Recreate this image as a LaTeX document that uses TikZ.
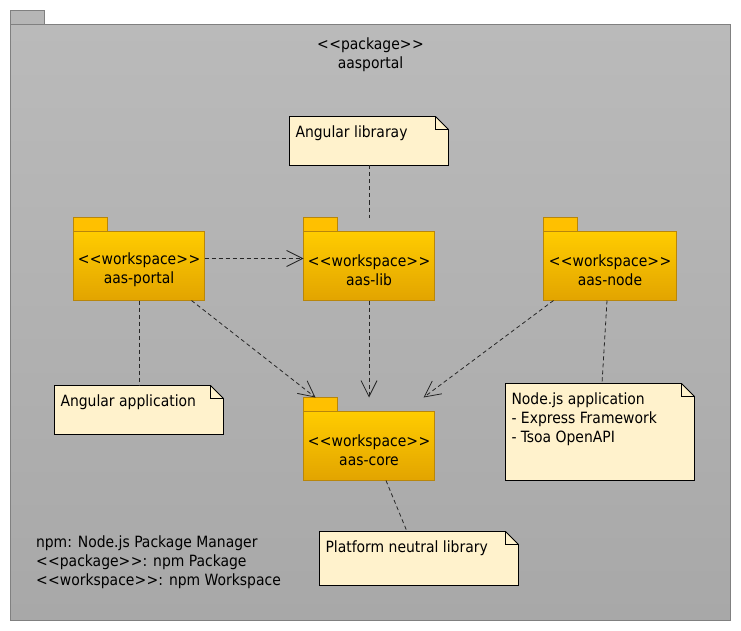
\documentclass[tikz,border=0pt]{standalone}
\usepackage{fontspec}
\setmainfont{DejaVu Sans Condensed}
\usetikzlibrary{arrows.meta,calc}
\definecolor{pkgtop}{HTML}{BABABA}
\definecolor{pkgbot}{HTML}{A8A8A8}
\definecolor{pkgedge}{HTML}{808080}
\definecolor{pkgtabfill}{HTML}{B6B6B6}
\definecolor{foldertop}{HTML}{FFCC00}
\definecolor{folderbot}{HTML}{E2A400}
\definecolor{folderedge}{HTML}{B8860B}
\definecolor{foldertabfill}{HTML}{FFC000}
\definecolor{notefill}{HTML}{FFF2CC}
\definecolor{linecol}{HTML}{262626}
\newcommand\ltlt{<\kern0.5pt<}
\newcommand\gtgt{>\kern0.5pt>}
\tikzset{
  txt/.style={font=\fontsize{15.5}{19}\selectfont, text=black, inner sep=0pt, outer sep=0pt},
  foldertab/.style={draw=folderedge, fill=foldertabfill, line width=0.8pt, minimum width=34pt, minimum height=14pt, inner sep=0pt, outer sep=0pt, anchor=south west},
  folderbody/.style={draw=folderedge, top color=foldertop, bottom color=folderbot, line width=0.8pt, minimum width=131pt, minimum height=69pt, inner sep=0pt, outer sep=0pt, anchor=north west},
  noteshape/.style={draw=black, fill=notefill, line width=0.8pt},
  link/.style={draw=linecol, line width=0.8pt, dash pattern=on 4pt off 3pt},
  dep/.style={link, -{Straight Barb[length=16pt,width=16pt,line width=0.8pt]}},
}
\newcommand\wsfolder[5][131]{%
  \node[folderbody, minimum width=#1pt] (#2) at (#3,#4) {};
  \node[foldertab] (#2tab) at (#2.north west) {};
  \node[txt, align=center, anchor=center] (#2txt) at ([yshift=-38.5pt]#2.north) {\ltlt workspace\gtgt\\#5};
}
\newcommand\umlnote[6]{%
  \node[inner sep=0pt, outer sep=0pt, minimum width=#4pt, minimum height=#5pt, anchor=north west] (#1) at (#2,#3) {};
  \draw[noteshape] (#1.north west) -- ([xshift=-13pt]#1.north east) -- ([yshift=-13pt]#1.north east) -- (#1.south east) -- (#1.south west) -- cycle;
  \draw[noteshape, fill=none] ([xshift=-13pt]#1.north east) |- ([yshift=-13pt]#1.north east);
  \node[txt, align=left, anchor=north west] (#1txt) at ([xshift=6pt, yshift=-9pt]#1.north west) {#6};
}
\begin{document}
\begin{tikzpicture}[x=1pt,y=-1pt]
\useasboundingbox (0,0) rectangle (741,631);
% outer package
\node[draw=pkgedge, top color=pkgtop, bottom color=pkgbot, line width=0.8pt, minimum width=720pt, minimum height=596pt, inner sep=0pt, outer sep=0pt, anchor=north west] (pkg) at (10.5,24.5) {};
\node[draw=pkgedge, fill=pkgtabfill, line width=0.8pt, minimum width=34pt, minimum height=14pt, inner sep=0pt, outer sep=0pt, anchor=south west] (pkgtab) at (pkg.north west) {};
\node[txt, anchor=base] (title1) at (370.5,50) {\ltlt package\gtgt};
\node[txt, anchor=base] (title2) at (370.5,69) {aasportal};
% folders
\wsfolder{portal}{73.5}{231.5}{aas-portal}
\wsfolder{lib}{303.5}{231.5}{aas-lib}
\wsfolder[133]{nodews}{543.5}{231.5}{aas-node}
\wsfolder{core}{303.5}{411.5}{aas-core}
% notes
\umlnote{nlib}{289.5}{116.5}{159}{49}{Angular libraray}
\umlnote{napp}{54.5}{385.5}{169}{49}{Angular application}
\umlnote{nnode}{505.5}{383.5}{189}{97}{Node.js application\\- Express Framework\\- Tsoa OpenAPI}
\umlnote{nplat}{319.5}{531.5}{199}{54}{Platform neutral library}
% legend
\node[txt, anchor=base west] (leg1) at (36,547) {npm: Node.js Package Manager};
\node[txt, anchor=base west] (leg2) at (36,566) {\ltlt package\gtgt: npm Package};
\node[txt, anchor=base west] (leg3) at (36,585) {\ltlt workspace\gtgt: npm Workspace};
% note links
\draw[link] (nlib.south) -- (nlib.south |- libtab.north);
\draw[link] (portal.south) -- (portal.south |- napp.north);
\draw[link] ([xshift=-3pt]nodews.south) -- ([xshift=2pt]nnode.north);
\draw[link] ([xshift=17pt]core.south) -- ([xshift=-12pt]nplat.north);
% dependencies
\draw[dep] ([yshift=7.5pt]portal.east) -- ([yshift=7.5pt]lib.west);
\draw[dep] ([xshift=-13pt]portal.south east) -- ([xshift=-5pt]coretab.north);
\draw[dep] (lib.south) -- (lib.south |- coretab.north);
\draw[dep] ([xshift=10pt]nodews.south west) -- ([xshift=-11pt]core.north east |- coretab.north);
\end{tikzpicture}
\end{document}
